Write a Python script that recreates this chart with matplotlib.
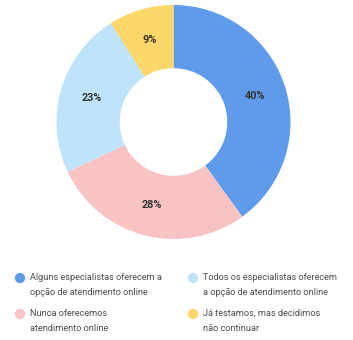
import matplotlib
matplotlib.use("Agg")
import matplotlib.pyplot as plt

categories = ["Alguns especialistas oferecem a\nopção de atendimento online",
              "Nunca oferecemos\natendimento online",
              "Todos os especialistas oferecem\na opção de atendimento online",
              "Já testamos, mas decidimos\nnão continuar"]
values = [40, 28, 23, 9]
colors = ["#5f9be8", "#f7c3c3", "#bee3fb", "#fed76b"]

plt.rcParams['font.family'] = ['Roboto', 'DejaVu Sans']

W, H = 353, 340
fig = plt.figure(figsize=(W / 100, H / 100), dpi=100)

cx, cy, R = 173.5, 122, 117
ax = fig.add_axes([(cx - R) / W, (H - cy - R) / H, 2 * R / W, 2 * R / H])
wedges, texts = ax.pie(values, colors=colors, startangle=90, counterclock=False,
                       radius=1, wedgeprops=dict(width=0.54, linewidth=0),
                       labels=[f"{v}%" for v in values], labeldistance=0.73)
for t in texts:
    t.set_ha("center"); t.set_va("center")
    t.set_fontsize(7.8); t.set_fontweight("bold"); t.set_color("#333333")
ax.set_xlim(-1, 1); ax.set_ylim(-1, 1)
ax.set_aspect("equal")
ax.axis("off")

lax = fig.add_axes([0, 0, 1, 1])
lax.set_xlim(0, W); lax.set_ylim(H, 0)
lax.axis("off")
pos = [(20, 278), (20, 314), (193, 278), (193, 314)]
for (x, y), c, lab in zip(pos, colors, categories):
    lax.scatter([x], [y], s=55, color=c, edgecolors="none")
    lax.text(x + 10, y - 5.5, lab, fontsize=6.6, color="#4d4d4d", va="top", ha="left",
             linespacing=1.9)

fig.savefig("out.png", dpi=100, facecolor="white")
